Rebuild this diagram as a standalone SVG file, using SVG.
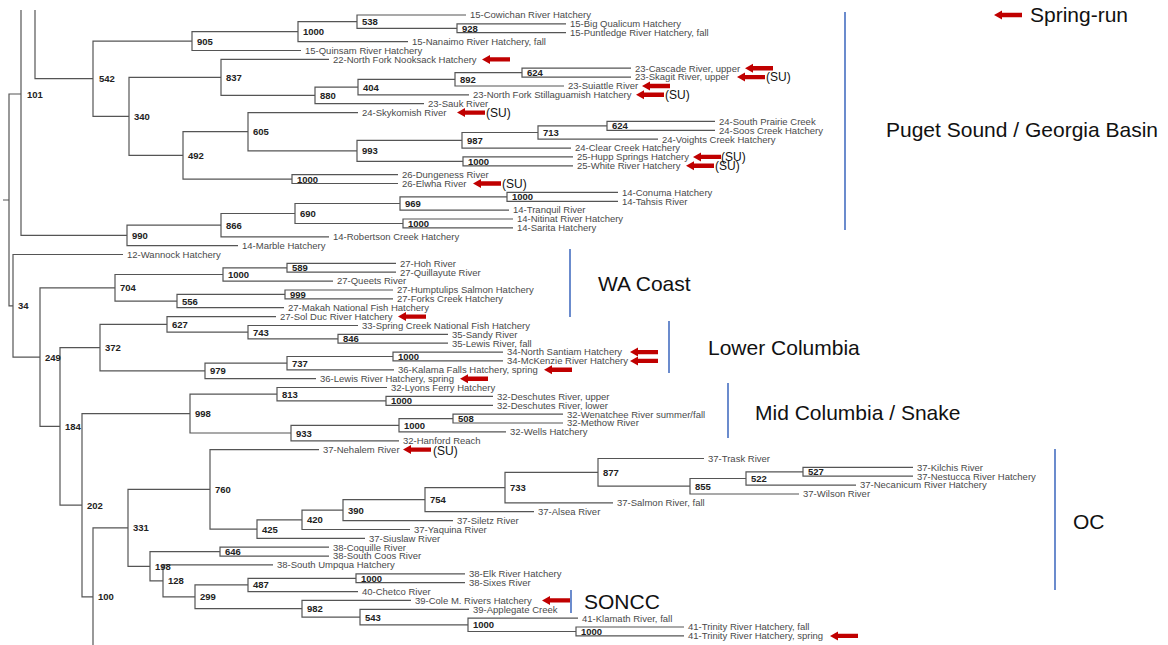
<svg xmlns="http://www.w3.org/2000/svg" xmlns:xlink="http://www.w3.org/1999/xlink" width="1168" height="645" viewBox="0 0 1168 645">
<style>
.e{fill:none;stroke:#555;stroke-width:1.2}
.t{font-family:"Liberation Sans",Arial,sans-serif;font-size:9.5px;fill:#4a4a4a}
.b{font-family:"Liberation Sans",Arial,sans-serif;font-size:9.5px;font-weight:bold;fill:#222}
.r{font-family:"Liberation Sans",Arial,sans-serif;font-size:21px;fill:#111}
.su{font-family:"Liberation Sans",Arial,sans-serif;font-size:12px;fill:#111}
.bl{stroke:#5B7FC8;stroke-width:1.8}
</style>
<defs>
<path id="arr" d="M0 0 L8 -4.5 L8 -2.2 L28 -2.2 L28 2.2 L8 2.2 L8 4.5 Z" fill="#C00000"/>
</defs>
<rect width="1168" height="645" fill="#fff"/>
<g id="connectors" class="e">
<path d="M566 23.9H457V32.7H566"/>
<path d="M466 15H357V28.3H457"/>
<path d="M357 21.6H298V41.6H408"/>
<path d="M298 31.6H192V50.5H301"/>
<path d="M631 68.2H522V77.1H631"/>
<path d="M522 72.6H455V86H564"/>
<path d="M455 79.3H358V94.8H469"/>
<path d="M358 87.1H315V103.7H424"/>
<path d="M329 59.4H221V95.4H315"/>
<path d="M715 121.4H607V130.3H715"/>
<path d="M607 125.9H538V139.2H658"/>
<path d="M538 132.5H462V148.1H571"/>
<path d="M573 156.9H463V165.8H573"/>
<path d="M462 140.3H357V161.4H463"/>
<path d="M358 112.6H248V150.8H357"/>
<path d="M398 174.7H292V183.5H398"/>
<path d="M248 131.7H183V179.1H292"/>
<path d="M221 77.4H129V155.4H183"/>
<path d="M192 41.1H93V116.4H129"/>
<path d="M35 10V78.7H93"/>
<path d="M618 192.4H507V201.3H618"/>
<path d="M507 196.9H400V210.1H509"/>
<path d="M513 219H403V227.9H513"/>
<path d="M400 203.5H295V223.5H403"/>
<path d="M295 213.5H221V236.8H329"/>
<path d="M221 225.1H127V245.6H238"/>
<path d="M21 10V235.4H127"/>
<path d="M21 94H9V305.8H13M3 200H9"/>
<path d="M396 263.4H287V272.2H396"/>
<path d="M287 267.8H223V281.1H333"/>
<path d="M393 290H285V298.8H393"/>
<path d="M285 294.4H177V307.7H284"/>
<path d="M223 274.5H115V301.1H177"/>
<path d="M123 254.5H13V357.1H40"/>
<path d="M115 287.8H40V426.4H60"/>
<path d="M448 334.3H338V343.2H448"/>
<path d="M358 325.5H248V338.8H338"/>
<path d="M276 316.6H167V332.1H248"/>
<path d="M503 352.1H393V360.9H503"/>
<path d="M393 356.5H287V369.8H394"/>
<path d="M287 363.2H205V378.7H316"/>
<path d="M167 324.4H100V370.9H205"/>
<path d="M100 347.6H60V505.2H82"/>
<path d="M493 396.4H386V405.3H493"/>
<path d="M387 387.5H277V400.9H386"/>
<path d="M563 414.2H453V423H563"/>
<path d="M453 418.6H399V431.9H506"/>
<path d="M399 425.3H291V440.8H399"/>
<path d="M277 394.2H190V433H291"/>
<path d="M190 413.6H82V596.8H93"/>
<path d="M913 467.4H803V476.2H913"/>
<path d="M803 471.8H746V485.1H856"/>
<path d="M746 478.5H690V494H799"/>
<path d="M704 458.5H598V486.2H690"/>
<path d="M598 472.4H505V502.9H613"/>
<path d="M505 487.6H425V511.7H534"/>
<path d="M425 499.7H343V520.6H453"/>
<path d="M343 510.1H302V529.5H410"/>
<path d="M302 519.8H257V538.3H365"/>
<path d="M319 449.6H210V529.1H257"/>
<path d="M210 489.3H128V566.3H150"/>
<path d="M128 527.8H93V645"/>
<path d="M329 547.2H220V556.1H329"/>
<path d="M465 573.8H356V582.7H465"/>
<path d="M356 578.3H248V591.6H358"/>
<path d="M684 627H576V635.9H684"/>
<path d="M578 618.2H468V631.5H576"/>
<path d="M469 609.3H360V624.8H468"/>
<path d="M411 600.4H302V617.1H360"/>
<path d="M248 584.9H195V608.7H302"/>
<path d="M273 564.9H163V596.8H195"/>
<path d="M220 551.7H150V580.9H163"/>
</g>
<g id="support" class="b">
<g id="n101"><text x="27" y="98">101</text></g>
<g id="n542"><text x="99" y="82.2">542</text></g>
<g id="n905"><text x="197" y="44.6">905</text></g>
<g id="n1000a"><text x="303" y="35.1">1000</text></g>
<g id="n538"><text x="362" y="25.2">538</text></g>
<g id="n928"><text x="462" y="31.8">928</text></g>
<g id="n837"><text x="226" y="80.9">837</text></g>
<g id="n880"><text x="320" y="98.9">880</text></g>
<g id="n404"><text x="363" y="90.6">404</text></g>
<g id="n892"><text x="460" y="82.8">892</text></g>
<g id="n624a"><text x="527" y="76.2">624</text></g>
<g id="n340"><text x="134" y="119.9">340</text></g>
<g id="n492"><text x="188" y="158.9">492</text></g>
<g id="n605"><text x="253" y="135.2">605</text></g>
<g id="n993"><text x="362" y="154.3">993</text></g>
<g id="n987"><text x="467" y="143.8">987</text></g>
<g id="n713"><text x="543" y="136">713</text></g>
<g id="n624b"><text x="612" y="129.4">624</text></g>
<g id="n1000hw"><text x="468" y="164.9">1000</text></g>
<g id="n1000de"><text x="297" y="182.6">1000</text></g>
<g id="n990"><text x="132" y="238.9">990</text></g>
<g id="n866"><text x="226" y="228.6">866</text></g>
<g id="n690"><text x="300" y="217">690</text></g>
<g id="n969"><text x="405" y="207">969</text></g>
<g id="n1000ct"><text x="512" y="200.4">1000</text></g>
<g id="n1000ns"><text x="408" y="227">1000</text></g>
<g id="n34"><text x="18" y="309.3">34</text></g>
<g id="n704"><text x="120" y="291.3">704</text></g>
<g id="n1000wa"><text x="228" y="278">1000</text></g>
<g id="n589"><text x="292" y="271.3">589</text></g>
<g id="n556"><text x="182" y="304.6">556</text></g>
<g id="n999"><text x="290" y="297.9">999</text></g>
<g id="n249"><text x="45" y="360.6">249</text></g>
<g id="n372"><text x="105" y="351.1">372</text></g>
<g id="n627"><text x="172" y="327.9">627</text></g>
<g id="n743"><text x="253" y="335.6">743</text></g>
<g id="n846"><text x="343" y="342.3">846</text></g>
<g id="n979"><text x="210" y="374.4">979</text></g>
<g id="n737"><text x="292" y="366.7">737</text></g>
<g id="n1000lc"><text x="398" y="360">1000</text></g>
<g id="n184"><text x="65" y="429.9">184</text></g>
<g id="n998"><text x="195" y="417.1">998</text></g>
<g id="n813"><text x="282" y="397.7">813</text></g>
<g id="n1000des"><text x="391" y="404.4">1000</text></g>
<g id="n933"><text x="296" y="436.5">933</text></g>
<g id="n1000mc"><text x="404" y="428.8">1000</text></g>
<g id="n508"><text x="458" y="422.1">508</text></g>
<g id="n202"><text x="87" y="508.7">202</text></g>
<g id="n760"><text x="215" y="492.8">760</text></g>
<g id="n877"><text x="603" y="475.9">877</text></g>
<g id="n855"><text x="695" y="489.7">855</text></g>
<g id="n522"><text x="751" y="482">522</text></g>
<g id="n527"><text x="808" y="475.3">527</text></g>
<g id="n733"><text x="510" y="491.1">733</text></g>
<g id="n754"><text x="430" y="503.2">754</text></g>
<g id="n390"><text x="348" y="513.6">390</text></g>
<g id="n420"><text x="307" y="523.3">420</text></g>
<g id="n425"><text x="262" y="532.6">425</text></g>
<g id="n331"><text x="133" y="531.3">331</text></g>
<g id="n198"><text x="155" y="569.8">198</text></g>
<g id="n646"><text x="225" y="555.2">646</text></g>
<g id="n128"><text x="168" y="584.4">128</text></g>
<g id="n299"><text x="200" y="600.3">299</text></g>
<g id="n487"><text x="253" y="588.4">487</text></g>
<g id="n1000es"><text x="361" y="581.8">1000</text></g>
<g id="n982"><text x="307" y="612.2">982</text></g>
<g id="n543"><text x="365" y="620.6">543</text></g>
<g id="n1000k"><text x="473" y="628.3">1000</text></g>
<g id="n1000tr"><text x="581" y="635">1000</text></g>
<g id="n100"><text x="98" y="600.3">100</text></g>
</g>
<g id="leaves" class="t">
<g id="leaf01"><text x="470" y="18.3">15-Cowichan River Hatchery</text></g>
<g id="leaf02"><text x="570" y="27.2">15-Big Qualicum Hatchery</text></g>
<g id="leaf03"><text x="570" y="36">15-Puntledge River Hatchery, fall</text></g>
<g id="leaf04"><text x="412" y="44.9">15-Nanaimo River Hatchery, fall</text></g>
<g id="leaf05"><text x="305" y="53.8">15-Quinsam River Hatchery</text></g>
<g id="leaf06"><text x="333" y="62.7">22-North Fork Nooksack Hatchery</text></g>
<g id="leaf07"><text x="635" y="71.5">23-Cascade River, upper</text></g>
<g id="leaf08"><text x="635" y="80.4">23-Skagit River, upper</text></g>
<g id="leaf09"><text x="568" y="89.3">23-Suiattle River</text></g>
<g id="leaf10"><text x="473" y="98.1">23-North Fork Stillaguamish Hatchery</text></g>
<g id="leaf11"><text x="428" y="107">23-Sauk River</text></g>
<g id="leaf12"><text x="362" y="115.9">24-Skykomish River</text></g>
<g id="leaf13"><text x="719" y="124.7">24-South Prairie Creek</text></g>
<g id="leaf14"><text x="719" y="133.6">24-Soos Creek Hatchery</text></g>
<g id="leaf15"><text x="662" y="142.5">24-Voights Creek Hatchery</text></g>
<g id="leaf16"><text x="575" y="151.4">24-Clear Creek Hatchery</text></g>
<g id="leaf17"><text x="577" y="160.2">25-Hupp Springs Hatchery</text></g>
<g id="leaf18"><text x="577" y="169.1">25-White River Hatchery</text></g>
<g id="leaf19"><text x="402" y="178">26-Dungeness River</text></g>
<g id="leaf20"><text x="402" y="186.8">26-Elwha River</text></g>
<g id="leaf21"><text x="622" y="195.7">14-Conuma Hatchery</text></g>
<g id="leaf22"><text x="622" y="204.6">14-Tahsis River</text></g>
<g id="leaf23"><text x="513" y="213.4">14-Tranquil River</text></g>
<g id="leaf24"><text x="517" y="222.3">14-Nitinat River Hatchery</text></g>
<g id="leaf25"><text x="517" y="231.2">14-Sarita Hatchery</text></g>
<g id="leaf26"><text x="333" y="240.1">14-Robertson Creek Hatchery</text></g>
<g id="leaf27"><text x="242" y="248.9">14-Marble Hatchery</text></g>
<g id="leaf28"><text x="127" y="257.8">12-Wannock Hatchery</text></g>
<g id="leaf29"><text x="400" y="266.7">27-Hoh River</text></g>
<g id="leaf30"><text x="400" y="275.5">27-Quillayute River</text></g>
<g id="leaf31"><text x="337" y="284.4">27-Queets River</text></g>
<g id="leaf32"><text x="397" y="293.3">27-Humptulips Salmon Hatchery</text></g>
<g id="leaf33"><text x="397" y="302.1">27-Forks Creek Hatchery</text></g>
<g id="leaf34"><text x="288" y="311">27-Makah National Fish Hatchery</text></g>
<g id="leaf35"><text x="280" y="319.9">27-Sol Duc River Hatchery</text></g>
<g id="leaf36"><text x="362" y="328.8">33-Spring Creek National Fish Hatchery</text></g>
<g id="leaf37"><text x="452" y="337.6">35-Sandy River</text></g>
<g id="leaf38"><text x="452" y="346.5">35-Lewis River, fall</text></g>
<g id="leaf39"><text x="507" y="355.4">34-North Santiam Hatchery</text></g>
<g id="leaf40"><text x="507" y="364.2">34-McKenzie River Hatchery</text></g>
<g id="leaf41"><text x="398" y="373.1">36-Kalama Falls Hatchery, spring</text></g>
<g id="leaf42"><text x="320" y="382">36-Lewis River Hatchery, spring</text></g>
<g id="leaf43"><text x="391" y="390.8">32-Lyons Ferry Hatchery</text></g>
<g id="leaf44"><text x="497" y="399.7">32-Deschutes River, upper</text></g>
<g id="leaf45"><text x="497" y="408.6">32-Deschutes River, lower</text></g>
<g id="leaf46"><text x="567" y="417.5">32-Wenatchee River summer/fall</text></g>
<g id="leaf47"><text x="567" y="426.3">32-Methow River</text></g>
<g id="leaf48"><text x="510" y="435.2">32-Wells Hatchery</text></g>
<g id="leaf49"><text x="403" y="444.1">32-Hanford Reach</text></g>
<g id="leaf50"><text x="323" y="452.9">37-Nehalem River</text></g>
<g id="leaf51"><text x="708" y="461.8">37-Trask River</text></g>
<g id="leaf52"><text x="917" y="470.7">37-Kilchis River</text></g>
<g id="leaf53"><text x="917" y="479.5">37-Nestucca River Hatchery</text></g>
<g id="leaf54"><text x="860" y="488.4">37-Necanicum River Hatchery</text></g>
<g id="leaf55"><text x="803" y="497.3">37-Wilson River</text></g>
<g id="leaf56"><text x="617" y="506.2">37-Salmon River, fall</text></g>
<g id="leaf57"><text x="538" y="515">37-Alsea River</text></g>
<g id="leaf58"><text x="457" y="523.9">37-Siletz River</text></g>
<g id="leaf59"><text x="414" y="532.8">37-Yaquina River</text></g>
<g id="leaf60"><text x="369" y="541.6">37-Siuslaw River</text></g>
<g id="leaf61"><text x="333" y="550.5">38-Coquille River</text></g>
<g id="leaf62"><text x="333" y="559.4">38-South Coos River</text></g>
<g id="leaf63"><text x="277" y="568.2">38-South Umpqua Hatchery</text></g>
<g id="leaf64"><text x="469" y="577.1">38-Elk River Hatchery</text></g>
<g id="leaf65"><text x="469" y="586">38-Sixes River</text></g>
<g id="leaf66"><text x="362" y="594.9">40-Chetco River</text></g>
<g id="leaf67"><text x="415" y="603.7">39-Cole M. Rivers Hatchery</text></g>
<g id="leaf68"><text x="473" y="612.6">39-Applegate Creek</text></g>
<g id="leaf69"><text x="582" y="621.5">41-Klamath River, fall</text></g>
<g id="leaf70"><text x="688" y="630.3">41-Trinity River Hatchery, fall</text></g>
<g id="leaf71"><text x="688" y="639.2">41-Trinity River Hatchery, spring</text></g>
</g>
<g id="spring-arrows">
<use xlink:href="#arr" x="482" y="59.4"/>
<use xlink:href="#arr" x="745" y="68.2"/>
<use xlink:href="#arr" x="737" y="77.1"/>
<use xlink:href="#arr" x="642" y="86"/>
<use xlink:href="#arr" x="636" y="94.8"/>
<use xlink:href="#arr" x="457" y="112.6"/>
<use xlink:href="#arr" x="693" y="156.9"/>
<use xlink:href="#arr" x="686" y="165.8"/>
<use xlink:href="#arr" x="473" y="183.5"/>
<use xlink:href="#arr" x="398" y="316.6"/>
<use xlink:href="#arr" x="630" y="352.1"/>
<use xlink:href="#arr" x="630" y="360.9"/>
<use xlink:href="#arr" x="544" y="369.8"/>
<use xlink:href="#arr" x="460" y="378.7"/>
<use xlink:href="#arr" x="403" y="449.6"/>
<use xlink:href="#arr" x="542" y="600.4"/>
<use xlink:href="#arr" x="830" y="635.9"/>
</g>
<g id="su-marks" class="su">
<text x="766" y="81.4">(SU)</text>
<text x="665" y="99.1">(SU)</text>
<text x="486" y="116.9">(SU)</text>
<text x="721" y="160.9">(SU)</text>
<text x="715" y="170.3">(SU)</text>
<text x="502" y="187.8">(SU)</text>
<text x="433" y="454.6">(SU)</text>
</g>
<g id="legend">
<use xlink:href="#arr" x="994" y="15"/>
<text class="r" x="1030" y="22" font-size="20">Spring-run</text>
</g>
<g id="region-puget"><line class="bl" x1="845" y1="12" x2="845" y2="230"/><text class="r" x="886" y="137">Puget Sound / Georgia Basin</text></g>
<g id="region-wacoast"><line class="bl" x1="570" y1="249" x2="570" y2="317"/><text class="r" x="598" y="291">WA Coast</text></g>
<g id="region-lowercolumbia"><line class="bl" x1="669" y1="321" x2="669" y2="373"/><text class="r" x="708" y="355">Lower Columbia</text></g>
<g id="region-midcolumbia"><line class="bl" x1="728" y1="383" x2="728" y2="438"/><text class="r" x="755" y="420">Mid Columbia / Snake</text></g>
<g id="region-oc"><line class="bl" x1="1055" y1="449" x2="1055" y2="590"/><text class="r" x="1073" y="529">OC</text></g>
<g id="region-soncc"><line class="bl" x1="571" y1="590" x2="571" y2="613"/><text class="r" x="584" y="609">SONCC</text></g>
</svg>
